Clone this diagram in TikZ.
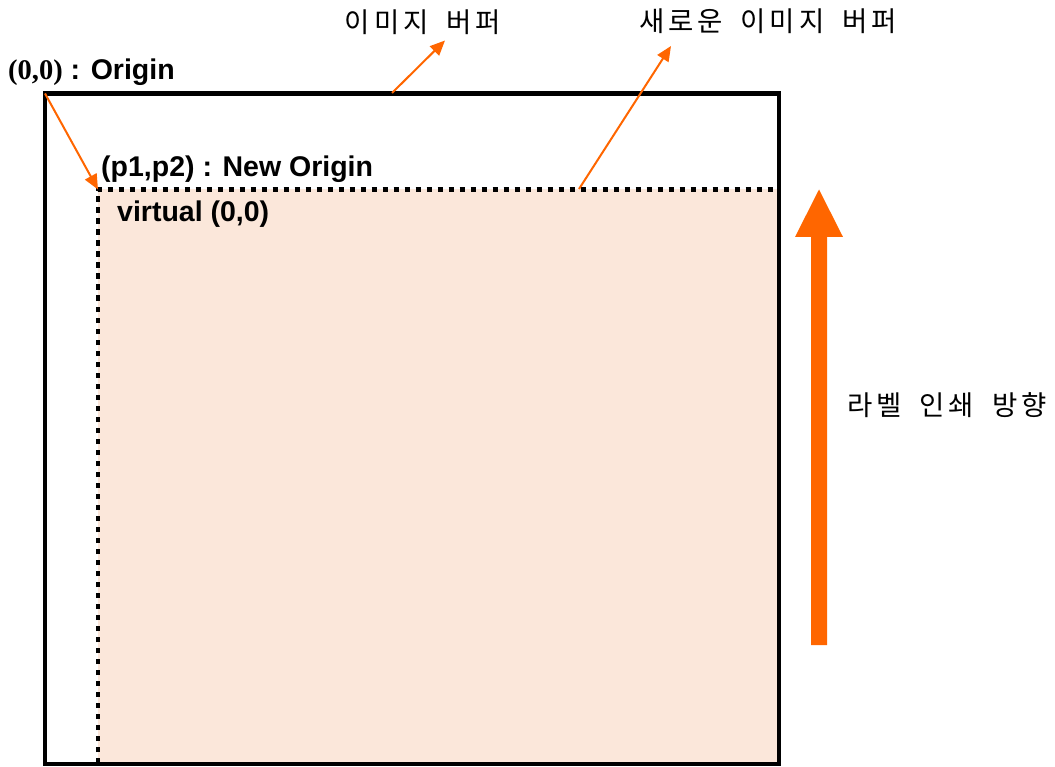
\documentclass[tikz,border=0pt]{standalone}
\usepackage{fontspec}
\setmainfont{Liberation Sans}
\newfontfamily\tnr{Liberation Serif}
\newfontfamily\kr[LetterSpace=14,WordSpace=1.8]{Noto Sans CJK KR}
\usetikzlibrary{arrows.meta}
\definecolor{org}{HTML}{FF6600}
\definecolor{peach}{HTML}{FBE7DA}
\tikzset{
  lbl/.style={inner sep=0pt, anchor=base west, font=\fontsize{28.5}{32}\selectfont\bfseries},
  krl/.style={inner sep=0pt, font=\fontsize{27.5}{30}\selectfont\kr},
  pointer/.style={draw=org, line width=2pt, -{Triangle[length=15pt,width=13pt]}},
}
\begin{document}
\begin{tikzpicture}[x=1pt,y=-1pt]
\useasboundingbox (0,0) rectangle (1055,767);
% corners
\coordinate (O) at (45,93.5);
\coordinate (P) at (98,189.5);
\coordinate (BR) at (779,764);
% inner virtual buffer
\fill[peach] (P) rectangle (BR);
% outer buffer
\draw[line width=4.5pt] (O) rectangle (BR);
\draw[line width=4.5pt, dash pattern=on 5.5pt off 5.5pt] (BR) -- (P |- BR) -- (P) -- (BR |- P) -- cycle;
% labels
\node[lbl] (orig) at (8,80) {{\tnr (0,0)} : Origin};
\node[lbl] (neworig) at (101,176.5) {(p1,p2) : New Origin};
\node[lbl] (virt) at (117,222) {virtual (0,0)};
\node[krl] (buf) at (423,22) {이미지 버퍼};
\node[krl] (newbuf) at (768,21) {새로운 이미지 버퍼};
\node[krl, anchor=west] (dir) at (847,405) {라벨 인쇄 방향};
% pointers
\coordinate (a1) at (392,93);
\coordinate (t1) at (445,40.5);
\coordinate (a2) at (579,189);
\coordinate (t2) at (671,46);
\draw[pointer] (O) -- (P);
\draw[pointer] (a1) -- (t1);
\draw[pointer] (a2) -- (t2);
% big direction arrow
\coordinate (bs) at (819,645);
\coordinate (bt) at (819,189.5);
\fill[org] (811,645) -- (811,237) -- (795,237) -- (bt) -- (843,237) -- (827,237) -- (827,645) -- cycle;
\end{tikzpicture}
\end{document}
